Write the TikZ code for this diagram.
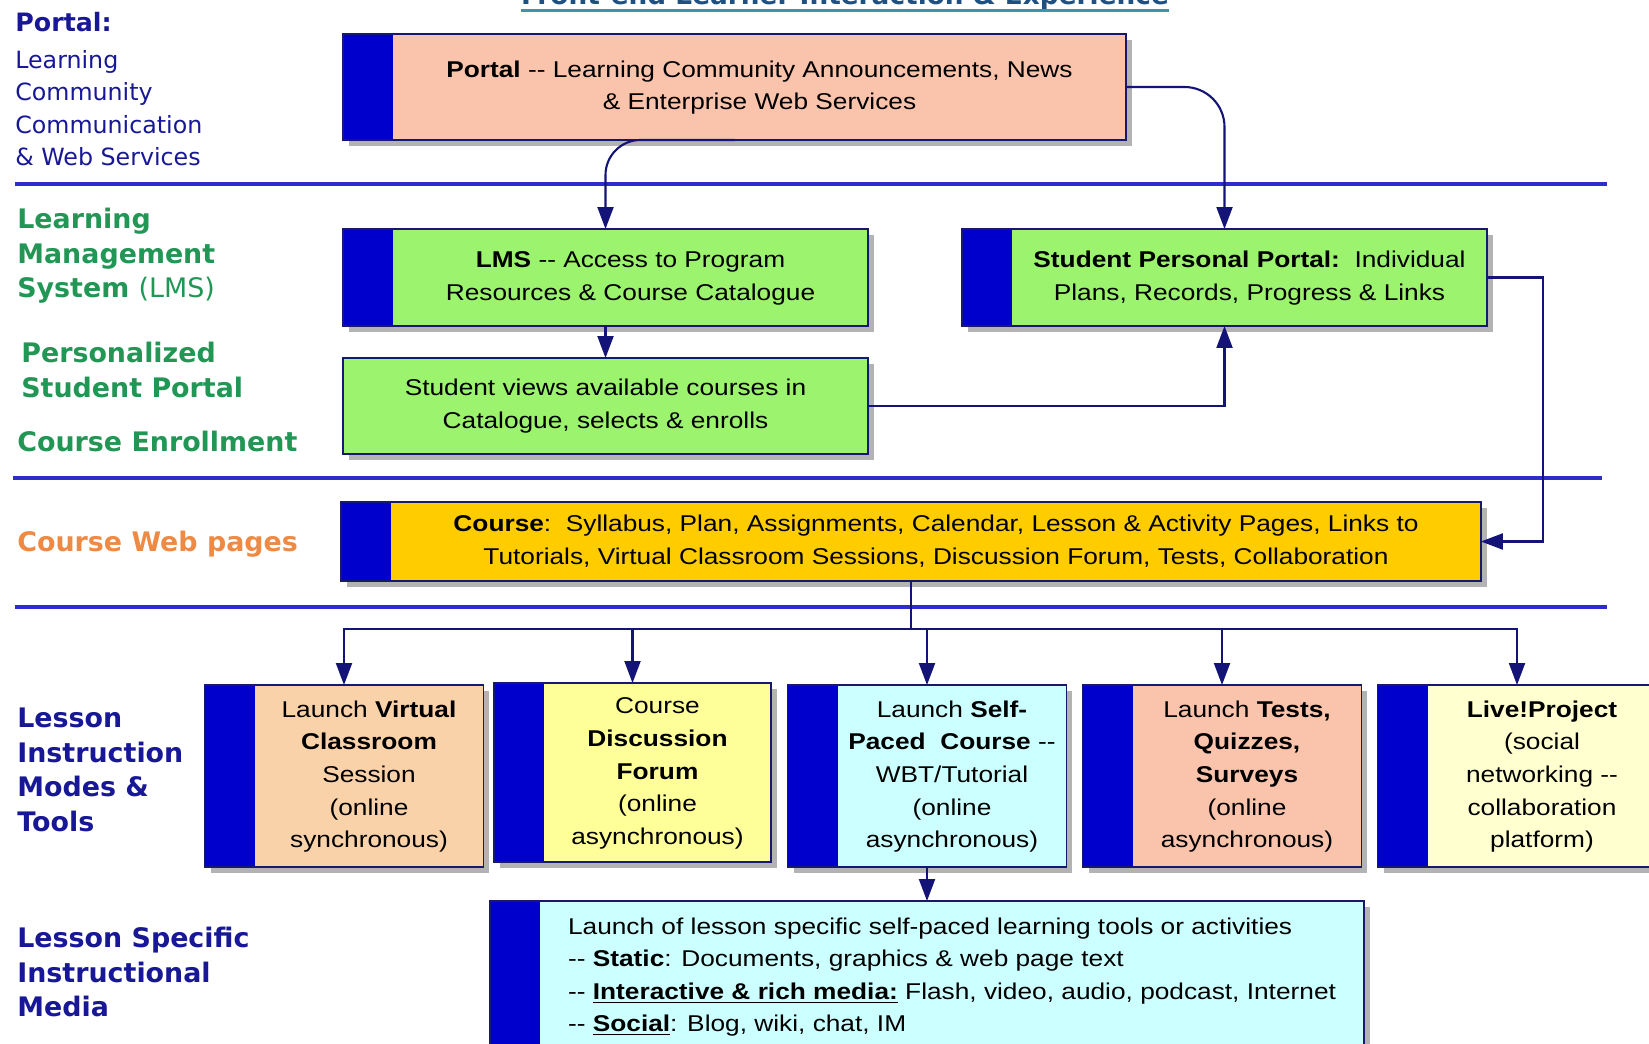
\documentclass[tikz,border=0pt]{standalone}
\usepackage{fontspec}
\setmainfont{Liberation Sans}[FakeStretch=1.15]
\newfontfamily\tagfont{DejaVu Sans}
\usetikzlibrary{arrows.meta,shadows}

\definecolor{barblue}{RGB}{0,0,204}
\definecolor{boxline}{RGB}{24,24,110}
\definecolor{linknavy}{RGB}{20,20,120}
\definecolor{rulecol}{RGB}{45,45,205}
\definecolor{tagnavy}{RGB}{24,24,150}
\definecolor{taggreen}{RGB}{34,150,85}
\definecolor{tagorange}{RGB}{238,138,68}
\definecolor{titleblue}{RGB}{30,80,130}
\definecolor{titleline}{RGB}{60,150,170}
\definecolor{portalfill}{RGB}{250,196,172}
\definecolor{lmsfill}{RGB}{156,243,110}
\definecolor{coursefill}{RGB}{255,204,0}
\definecolor{vcfill}{RGB}{250,210,170}
\definecolor{forumfill}{RGB}{255,255,153}
\definecolor{spcfill}{RGB}{204,255,255}
\definecolor{testfill}{RGB}{250,196,172}
\definecolor{livefill}{RGB}{255,255,208}

% text of a box with the blue bar on its left
\newcommand{\bartext}[1]{\hspace*{1cm}\begin{tabular}{@{}c@{}}#1\end{tabular}}
\newcommand{\bartextl}[1]{\hspace*{1cm}\begin{tabular}{@{}l@{}}#1\end{tabular}}

\begin{document}
\begin{tikzpicture}
  [x=0.02cm,y=-0.02cm,
   panel/.style={rectangle,draw=boxline,line width=1pt,fill=#1,inner sep=0,outer sep=0,
                 font=\fontsize{13}{18.55}\selectfont,
                 drop shadow={shadow xshift=0.12cm,shadow yshift=-0.12cm,fill=black!50,opacity=0.6},
                 path picture={\fill[barblue] (path picture bounding box.north west)
                   rectangle ([xshift=1cm]path picture bounding box.south west);}},
   plainpanel/.style={rectangle,draw=boxline,line width=1pt,fill=#1,inner sep=0,outer sep=0,
                 align=center,font=\fontsize{13}{18.55}\selectfont,
                 drop shadow={shadow xshift=0.12cm,shadow yshift=-0.12cm,fill=black!50,opacity=0.6}},
   lesson/.style={panel=#1,minimum width=5.58cm,minimum height=3.64cm},
   link/.style={draw=linknavy,line width=1.2pt,-{Triangle[length=0.44cm,width=0.32cm]}},
   wire/.style={draw=linknavy,line width=1.2pt},
   divider/.style={draw=rulecol,line width=2pt},
   tag/.style={anchor=west,align=left,inner sep=0,
               font=\tagfont\bfseries\fontsize{15.3}{19.7}\selectfont},
   title/.style={anchor=base,inner sep=0,text=titleblue,
                 font=\tagfont\bfseries\fontsize{15}{18}\selectfont}]
  \useasboundingbox (0,0) rectangle (1649,1044);

  % title, cut by the top edge
  \node[title] (title) at (845,5) {Front-end Learner Interaction \& Experience};
  \draw[titleline,line width=1.7pt] (title.south west) -- (title.south east);

  % rows
  \draw[divider] (15,184) -- (1607,184);
  \draw[divider] (13,478) -- (1602,478);
  \draw[divider] (15,607) -- (1607,607);

  % left column
  \node[tag,text=tagnavy,anchor=base west,font=\tagfont\bfseries\fontsize{14.4}{17}\selectfont]
    (portaltag) at (15,32) {Portal:};
  \node[tag,text=tagnavy,font=\tagfont\fontsize{13.5}{18.4}\selectfont]
    (portalsub) at (15,108) {Learning\\ Community\\ Communication\\ \& Web Services};
  \node[tag,text=taggreen] (lmstag) at (17,256) {Learning\\ Management\\ System {\mdseries(LMS)}};
  \node[tag,text=taggreen] (spptag) at (21,370) {Personalized\\ Student Portal};
  \node[tag,text=taggreen,anchor=base west] (enrolltag) at (17,451) {Course Enrollment};
  \node[tag,text=tagorange,anchor=base west] (webtag) at (17,551) {Course Web pages};
  \node[tag,text=tagnavy] (modetag) at (17,770) {Lesson\\ Instruction\\ Modes \&\\ Tools};
  \node[tag,text=tagnavy] (mediatag) at (17,972) {Lesson Specific\\ Instructional\\ Media};

  % boxes
  \node[panel=portalfill,minimum width=15.66cm,minimum height=2.12cm] (portal) at (734.5,87)
    {\bartext{\textbf{Portal} -{}- Learning Community Announcements, News\\ \& Enterprise Web Services}};
  \node[panel=lmsfill,minimum width=10.5cm,minimum height=1.94cm] (lms) at (605.5,277.5)
    {\bartext{\textbf{LMS} -{}- Access to Program\\ Resources \& Course Catalogue}};
  \node[plainpanel=lmsfill,minimum width=10.5cm,minimum height=1.92cm] (views) at (605.5,406)
    {Student views available courses in\\ Catalogue, selects \& enrolls};
  \node[panel=lmsfill,minimum width=10.5cm,minimum height=1.94cm] (spp) at (1224.5,277.5)
    {\bartext{\textbf{Student Personal Portal:}\ \ Individual\\ Plans, Records, Progress \& Links}};
  \node[panel=coursefill,minimum width=22.8cm,minimum height=1.58cm] (course) at (911,541.5)
    {\bartext{\textbf{Course}:\ \ Syllabus, Plan, Assignments, Calendar, Lesson \& Activity Pages, Links to\\
      Tutorials, Virtual Classroom Sessions, Discussion Forum, Tests, Collaboration}};

  \node[lesson=vcfill] (vc) at (344,776)
    {\bartext{Launch \textbf{Virtual}\\ \textbf{Classroom}\\ Session\\ (online\\ synchronous)}};
  \node[lesson=forumfill,minimum width=5.54cm,minimum height=3.58cm] (forum) at (632.5,772.5)
    {\bartext{Course\\ \textbf{Discussion}\\ \textbf{Forum}\\ (online\\ asynchronous)}};
  \node[lesson=spcfill] (spc) at (927,776)
    {\bartext{Launch \textbf{Self-}\\ \textbf{Paced\ \ Course} -{}-\\ WBT/Tutorial\\ (online\\ asynchronous)}};
  \node[lesson=testfill] (tests) at (1222,776)
    {\bartext{Launch \textbf{Tests,}\\ \textbf{Quizzes,}\\ \textbf{Surveys}\\ (online\\ asynchronous)}};
  \node[lesson=livefill] (live) at (1517,776)
    {\bartext{\textbf{Live!Project}\\ (social\\ networking -{}-\\ collaboration\\ platform)}};

  \node[panel=spcfill,minimum width=17.48cm,minimum height=3.02cm] (media) at (927,976.5)
    {\bartextl{Launch of lesson specific self-paced learning tools or activities\\
      -{}- \textbf{Static}: Documents, graphics \& web page text\\
      -{}- \underline{\textbf{Interactive \& rich media:}} Flash, video, audio, podcast, Internet\\
      -{}- \underline{\textbf{Social}}: Blog, wiki, chat, IM}};

  % connectors
  \draw[link,rounded corners=0.7cm] (portal.south) -| (lms.north);
  \draw[link,rounded corners=0.8cm] (portal.east) -| (spp.north);
  \draw[link] (lms.south) -- (views.north);
  \draw[link] (views.east) -| (spp.south);
  \draw[link] (spp.east) -- ++(56,0) |- (course.east);
  \coordinate (bus) at ([yshift=-0.96cm]course.south);
  \draw[wire] (course.south) -- (bus);
  \foreach \m in {vc,forum,spc,tests,live}
    \draw[link] (bus) -| (\m.north);
  \draw[link] (spc.south) -- (media.north);
\end{tikzpicture}
\end{document}
